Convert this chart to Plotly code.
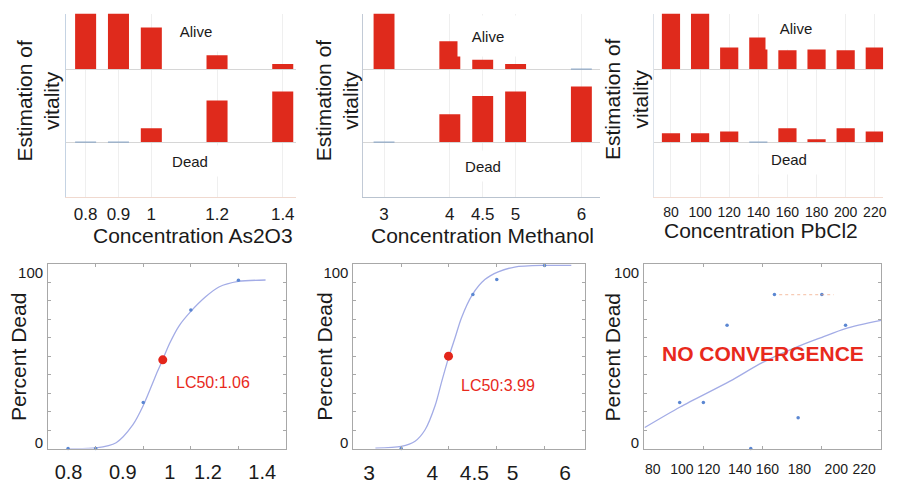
import plotly.graph_objects as go

W, H = 903, 484

# ---------------- vitality (alive / dead share, %) ----------------
conc_as = [0.8, 0.9, 1.0, 1.2, 1.4]
alive_as = [100, 100, 75, 25, 9]
dead_as = [0, 0, 25, 75, 91]

conc_me = [3, 4, 4.5, 5, 6]
alive_me = [100, 50, 17, 9, 0]
dead_me = [0, 50, 83, 91, 100]

conc_pb = [80, 100, 120, 140, 160, 180, 200, 220]
alive_pb = [100, 100, 39, 57, 34, 37, 34, 39]
dead_pb = [16, 16, 19, 0, 25, 5, 25, 19]

# ---------------- dose-response (percent dead) ----------------
# As2O3 plotted on an ordinal dose axis
as_pos = [0.42, 1, 2, 3, 4]
as_dead = [0, 0, 25, 75, 91]
as_fit_pos = [0.42, 1.01, 1.43, 1.78, 2.0, 2.30, 2.41, 2.55, 2.75, 3.0, 3.31, 3.59, 4.0, 4.57]
as_fit = [0, 0.4, 3.2, 12.8, 23.3, 41.8, 48.2, 56.7, 66.3, 74.2, 82.1, 87.4, 90.4, 91.2]
as_lc50_pos, as_lc50_dead = 2.41, 48
as_lc50_text = "LC50:1.06"
as_tick_pos = [0.43, 1.57, 2.56, 3.36, 4.5]
as_tick_text = ["0.8", "0.9", "1", "1.2", "1.4"]

me_conc = [3, 4, 4.5, 5, 6]
me_dead = [0, 50, 83.3, 91.4, 99.1]
me_fit_x = [2.46, 3.0, 3.29, 3.5, 3.71, 3.85, 4.0, 4.125, 4.26, 4.49, 4.75, 5.03, 5.375, 6.0, 6.56]
me_fit = [0.2, 1.2, 4.0, 10.2, 23.3, 36.5, 50, 59.8, 70.7, 83.3, 91.4, 95.6, 98.2, 99.1, 99.1]
me_lc50, me_lc50_dead = 3.99, 50
me_lc50_text = "LC50:3.99"
me_tick_pos = [2.33, 3.65, 4.53, 5.33, 6.43]
me_tick_text = ["3", "4", "4.5", "5", "6"]

pb_conc = [80, 100, 120, 140, 160, 180, 200, 220]
pb_dead = [25, 25, 66.7, 0, 83.3, 16.7, 83.3, 66.7]
pb_fit_x = [50.5, 80.4, 122.5, 149.7, 178.6, 200.1, 220, 250]
pb_fit = [11.4, 22.5, 36.5, 46.5, 54.9, 60.2, 64.9, 69.3]
pb_spread_x = [164, 210]
pb_spread_y = [83.3, 83.3]
pb_tick_pos = [57.3, 81.9, 104.4, 130.7, 154, 181.1, 212.2, 235.7]
pb_tick_text = ["80", "100", "120", "140", "160", "180", "200", "220"]

pct_label_pos = [3.2, 95.3]
pct_label_text = ["0", "100"]

FONT = "Liberation Sans, Arial, sans-serif"
RED = "#df2a1c"
TXT_RED = "#e8291c"
CURVE = "#a3ace6"
DOT = "#5b87d2"
FRAME = "#a8a8a8"
ALIVE_BASE = 131.6
TOP_RANGE = [-98.2, 231.6]


def px_x(v):
    return v / W


def px_y(v):
    return 1 - v / H


fig = go.Figure()

# ---------- top row: stacked alive/dead bars ----------
top_panels = [
    dict(n="", x=conc_as, alive=alive_as, dead=dead_as, w=0.064,
         dom=(66, 297), rng=[0.7394, 1.4394], tick=17, gap=2,
         line="#c5d3e3", base="#f0d9cf"),
    dict(n="2", x=conc_me, alive=alive_me, dead=dead_me, w=0.318,
         dom=(365, 603), rng=[2.686, 6.288], tick=17, gap=2,
         line="#c2cad6", base="#b9c3cf"),
    dict(n="3", x=conc_pb, alive=alive_pb, dead=dead_pb, w=12.5,
         dom=(657, 887), rng=[68.4, 225.7], tick=14, gap=3,
         line="#dde3ea", base="#f3dcd2"),
]

for p in top_panels:
    xa, ya = "x" + p["n"], "y" + p["n"]
    fig.add_trace(go.Bar(x=p["x"], y=p["alive"], base=ALIVE_BASE, width=p["w"],
                         marker=dict(color=RED, line=dict(width=0)),
                         xaxis=xa, yaxis=ya, showlegend=False))
    fig.add_trace(go.Bar(x=p["x"], y=p["dead"], base=0, width=p["w"],
                         marker=dict(color=RED, line=dict(width=0)),
                         xaxis=xa, yaxis=ya, showlegend=False))
    # empty groups are drawn as a thin line on their baseline
    sx, sy = [], []
    for xv, a, d in zip(p["x"], p["alive"], p["dead"]):
        for val, b in ((a, ALIVE_BASE), (d, 0)):
            if val == 0:
                sx += [xv - p["w"] / 2, xv + p["w"] / 2, None]
                sy += [b, b, None]
    if sx:
        fig.add_trace(go.Scatter(x=sx, y=sy, mode="lines",
                                 line=dict(color="#7d9cc2", width=1),
                                 xaxis=xa, yaxis=ya, showlegend=False, hoverinfo="skip"))
    fig.layout["xaxis" + p["n"]] = dict(
        domain=[px_x(p["dom"][0]), px_x(p["dom"][1])], anchor=ya, range=p["rng"],
        tickmode="array", tickvals=p["x"], ticktext=[f"{v:g}" for v in p["x"]],
        ticks="", ticklabelstandoff=p["gap"], showgrid=True, gridcolor="#efefef",
        zeroline=False, showline=True, linecolor=p["base"], linewidth=1,
        tickfont=dict(family=FONT, size=p["tick"], color="#1a1a1a"), fixedrange=True)
    fig.layout["yaxis" + p["n"]] = dict(
        domain=[px_y(202), px_y(14)], anchor=xa, range=TOP_RANGE,
        tickmode="array", tickvals=[0, ALIVE_BASE], showticklabels=False, ticks="",
        showgrid=True, gridcolor="#d6d6d6", zeroline=False,
        showline=True, linecolor=p["line"], linewidth=1, fixedrange=True)

# ---------- bottom row: percent dead with fitted curve ----------
bottom_panels = [
    dict(n="4", fx=as_fit_pos, fy=as_fit, px=as_pos, py=as_dead,
         dom=(48.3, 287.3), rng=[0, 5], minor=[1, 2, 3, 4],
         tv=as_tick_pos, tt=as_tick_text, tick=20, gap=5),
    dict(n="5", fx=me_fit_x, fy=me_fit, px=me_conc, py=me_dead,
         dom=(355, 587.3), rng=[2.0, 6.84], minor=[3, 4, 5, 6],
         tv=me_tick_pos, tt=me_tick_text, tick=21, gap=5),
    dict(n="6", fx=pb_fit_x, fy=pb_fit, px=pb_conc, py=pb_dead,
         dom=(647, 885), rng=[50, 250], minor=[100, 150, 200],
         tv=pb_tick_pos, tt=pb_tick_text, tick=14, gap=8),
]

for p in bottom_panels:
    xa, ya = "x" + p["n"], "y" + p["n"]
    fig.add_trace(go.Scatter(x=p["fx"], y=p["fy"], mode="lines",
                             line=dict(color=CURVE, width=1.3, shape="spline", smoothing=0.8),
                             xaxis=xa, yaxis=ya, showlegend=False))
    fig.add_trace(go.Scatter(x=p["px"], y=p["py"], mode="markers",
                             marker=dict(color=DOT, size=3.5),
                             xaxis=xa, yaxis=ya, showlegend=False, cliponaxis=False))
    fig.layout["xaxis" + p["n"]] = dict(
        domain=[px_x(p["dom"][0]), px_x(p["dom"][1])], anchor=ya, range=p["rng"],
        tickmode="array", tickvals=p["tv"], ticktext=p["tt"], ticks="",
        ticklabelstandoff=p["gap"],
        minor=dict(tickmode="array", tickvals=p["minor"], ticks="inside",
                   ticklen=3, tickcolor=FRAME, showgrid=False),
        showgrid=False, zeroline=False, showline=True, mirror="ticks",
        linecolor=FRAME, linewidth=1,
        tickfont=dict(family=FONT, size=p["tick"], color="#1a1a1a"), fixedrange=True)
    fig.layout["yaxis" + p["n"]] = dict(
        domain=[px_y(461), px_y(271)], anchor=xa, range=[0, 100],
        tickmode="array", tickvals=pct_label_pos, ticktext=pct_label_text, ticks="",
        minor=dict(tickmode="array", tickvals=list(range(10, 100, 10)), ticks="inside",
                   ticklen=3, tickcolor=FRAME, showgrid=False),
        ticklabelstandoff=1,
        showgrid=False, zeroline=False, showline=True, mirror="ticks",
        linecolor=FRAME, linewidth=1,
        tickfont=dict(family=FONT, size=15, color="#1a1a1a"), fixedrange=True)

# faint spread marks on the lead chloride panel
fig.add_trace(go.Scatter(x=pb_spread_x, y=pb_spread_y, mode="lines",
                         line=dict(color="rgba(240,160,120,0.55)", width=1.2, dash="dot"),
                         xaxis="x6", yaxis="y6", showlegend=False, hoverinfo="skip"))

# LC50 markers
fig.add_trace(go.Scatter(x=[as_lc50_pos], y=[as_lc50_dead], mode="markers",
                         marker=dict(color="#e3261b", size=9),
                         xaxis="x4", yaxis="y4", showlegend=False))
fig.add_trace(go.Scatter(x=[me_lc50], y=[me_lc50_dead], mode="markers",
                         marker=dict(color="#e3261b", size=9),
                         xaxis="x5", yaxis="y5", showlegend=False))

ann = []


def text(s, x, y, size, color="#1a1a1a", angle=0, bold=False, box=None):
    a = dict(text=f"<b>{s}</b>" if bold else s, x=px_x(x), y=px_y(y),
             xref="paper", yref="paper", xanchor="center", yanchor="middle",
             showarrow=False, textangle=angle,
             font=dict(family=FONT, size=size, color=color))
    if box:
        a.update(bgcolor="white", width=box[0], height=box[1], borderpad=0)
    ann.append(a)


# panel labels inside the vitality charts
text("Alive", 197, 32, 15, box=(60, 40))
text("Dead", 191, 165, 15, box=(60, 30))
text("Alive", 490, 36.7, 15, box=(60, 40))
text("Dead", 485, 170.7, 15, box=(60, 30))
text("Alive", 800, 29.5, 15, box=(60, 41))
text("Dead", 793, 163.3, 15, box=(60, 30))

# axis titles
for cx, cy in ((38.5, 103), (338.5, 103), (629.5, 102)):
    text("Estimation of<br>vitality", cx, cy, 21, angle=-90)
text("Concentration As2O3", 194, 242, 21)
text("Concentration Methanol", 485, 242, 21)
text("Concentration PbCl2", 764, 237, 21)
for cx in (18, 326, 615):
    text("Percent Dead", cx, 367, 21, angle=-90)

# fit annotations
text(as_lc50_text, 214, 393, 16, color=TXT_RED)
text(me_lc50_text, 500, 395.7, 16, color=TXT_RED)
text("NO CONVERGENCE", 766, 363, 21, color=TXT_RED, bold=True)

fig.update_layout(
    width=W, height=H, margin=dict(l=0, r=0, t=0, b=0),
    paper_bgcolor="white", plot_bgcolor="white",
    barmode="overlay", annotations=ann, showlegend=False,
    font=dict(family=FONT),
)

fig.write_html("out.html", config={"displayModeBar": False})
